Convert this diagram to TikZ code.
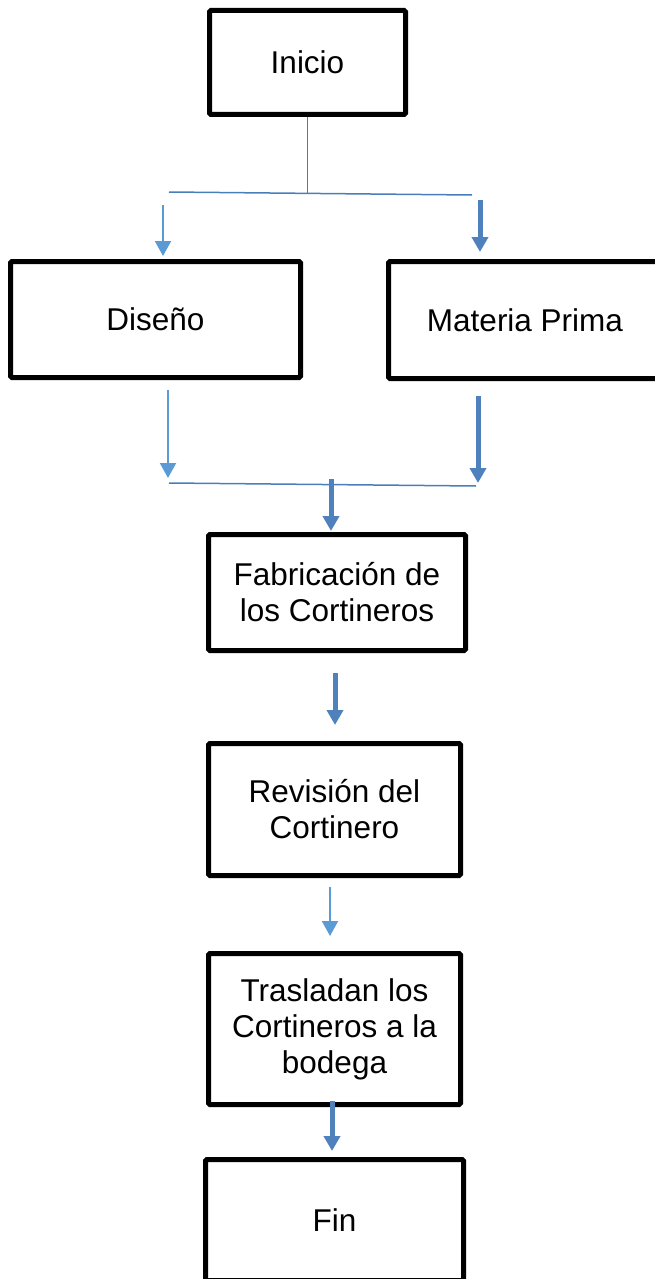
\documentclass[tikz,border=0pt]{standalone}
\usepackage{fontspec}
\setmainfont{Liberation Sans}
\usetikzlibrary{positioning,arrows.meta}
\definecolor{lineblue}{HTML}{4A7EBB}
\definecolor{lightblue}{HTML}{5B9BD5}
\definecolor{darkblue}{HTML}{4F81BD}

\begin{document}
\begin{tikzpicture}[main/.style = {draw, rectangle, line width=5pt, rounded corners=1.5pt, align=center, font=\fontsize{31.5}{36}\selectfont},
    link/.style = {draw=lineblue, line width=1.5pt},
    slim/.style = {draw=lightblue, line width=2pt, -{Triangle[width=16pt,length=15pt]}},
    fat/.style = {draw=darkblue, line width=5pt, -{Triangle[width=16pt,length=15pt]}}
    ]
\useasboundingbox (0,0) rectangle (655pt,-1279pt);

\node[main, minimum width=196pt, minimum height=104pt] (0) at (307.5pt,-62.5pt) {Inicio};
\node[main, minimum width=290pt, minimum height=116pt] (1) [below left=142pt and -96pt of 0] {Diseño};
\node[main, minimum width=273pt, minimum height=117pt] (2) [below right=142pt and -22pt of 0] {Materia Prima};
\node[main, minimum width=257pt, minimum height=116pt] (3) [below right=152pt and -97pt of 1] {Fabricación de\\los Cortineros};
\node[main, minimum width=252pt, minimum height=132pt] (4) [below right=88pt and 0pt of 3.south west] {Revisión del\\Cortinero};
\node[main, minimum width=252pt, minimum height=151pt] (5) [below right=73pt and 0pt of 4.south west] {Trasladan los\\Cortineros a la\\bodega};
\node[main, minimum width=258pt, minimum height=121pt] (6) [below right=50pt and -3pt of 5.south west] {Fin};

% reparto
\coordinate (h1a) at (169pt,-192pt);
\coordinate (h1b) at (472pt,-195pt);
\coordinate (j1) at (307.5pt,-193.5pt);
\coordinate (a1) at (163pt,-205pt);
\coordinate (a2) at (480pt,-200pt);
\draw[link] (0) -- (j1);
\draw[link] (h1a) -- (h1b);
\draw[slim, shorten >=3pt] (a1) -- (a1 |- 1.north);
\draw[fat, shorten >=7pt] (a2) -- (a2 |- 2.north);

% union
\coordinate (h2a) at (169pt,-483pt);
\coordinate (h2b) at (476pt,-486pt);
\coordinate (b1) at (168pt,-390pt);
\coordinate (b2) at (478pt,-396pt);
\coordinate (j2) at (331pt,-479pt);
\draw[link] (h2a) -- (h2b);
\draw[slim, shorten >=5pt] (b1) -- (b1 |- h2a);
\draw[fat, shorten >=3pt] (b2) -- (b2 |- h2b);
\draw[fat, shorten >=1pt] (j2) -- (j2 |- 3.north);

% columna
\coordinate (c1) at (335pt,-673pt);
\coordinate (c2) at (330pt,-887pt);
\coordinate (c3) at (332pt,-1101pt);
\draw[fat, shorten >=16pt] (c1) -- (c1 |- 4.north);
\draw[slim, shorten >=15pt] (c2) -- (c2 |- 5.north);
\draw[fat, shorten >=6pt] (c3) -- (c3 |- 6.north);

\end{tikzpicture}
\end{document}
